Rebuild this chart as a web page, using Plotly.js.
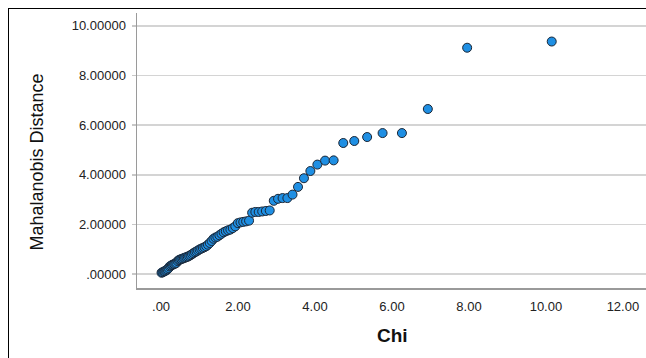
<!DOCTYPE html>
<html>
<head>
<meta charset="utf-8">
<script src="https://cdn.plot.ly/plotly-3.0.1.min.js"></script>
<style>
html,body{margin:0;padding:0;background:#fff;overflow:hidden;}
#wrap{position:relative;width:646px;height:358px;}
#chart{position:absolute;left:0;top:0;width:646px;height:358px;}
#frame{position:absolute;left:8px;top:8px;width:700px;height:400px;border-left:1px solid #000;border-top:1px solid #000;pointer-events:none;}
</style>
</head>
<body>
<div id="wrap"><div id="chart"></div><div id="frame"></div></div>
<script>
const chiValues = [0.0125,0.0379,0.0635,0.0895,0.1158,0.1425,0.1695,0.1969,0.2247,0.2528,
0.2814,0.3104,0.3398,0.3697,0.3999,0.4307,0.4620,0.4937,0.5260,0.5588,
0.5921,0.6260,0.6605,0.6956,0.7313,0.7677,0.8047,0.8424,0.8809,0.9201,
0.9601,1.0009,1.0426,1.0851,1.1286,1.1731,1.2185,1.2650,1.3127,1.3615,
1.4115,1.4627,1.5154,1.5694,1.6250,1.6821,1.7410,1.8016,1.8641,1.9286,
1.9953,2.0642,2.1357,2.2098,2.2867,2.3667,2.4501,2.5370,2.6279,2.7232,
2.8232,2.9285,3.0397,3.1573,3.2824,3.4158,3.5587,3.7126,3.8794,4.0613,
4.2615,4.4839,4.7342,5.0204,5.3546,5.7559,6.2585,6.9315,7.9531,10.1503];
const mahalanobis = [0.05,0.07,0.09,0.11,0.13,0.16,0.19,0.24,0.30,0.33,
0.36,0.38,0.40,0.42,0.45,0.52,0.56,0.58,0.60,0.62,
0.64,0.66,0.68,0.70,0.73,0.76,0.80,0.84,0.88,0.91,
0.95,0.99,1.02,1.05,1.08,1.12,1.18,1.25,1.33,1.42,
1.47,1.50,1.56,1.62,1.68,1.72,1.76,1.79,1.85,1.92,
2.05,2.08,2.10,2.12,2.15,2.47,2.50,2.50,2.52,2.54,
2.56,2.95,3.03,3.06,3.06,3.20,3.51,3.86,4.15,4.41,
4.57,4.58,5.28,5.36,5.52,5.68,5.68,6.65,9.12,9.37];
const xTickVals = [0,2,4,6,8,10,12];
const xTickText = ['.00','2.00','4.00','6.00','8.00','10.00','12.00'];
const yTickVals = [0,2,4,6,8,10];
const yTickText = ['.00000','2.00000','4.00000','6.00000','8.00000','10.00000'];
const xTitle = 'Chi';
const yTitle = 'Mahalanobis Distance';

const trace = {
  x: chiValues, y: mahalanobis, type: 'scatter', mode: 'markers',
  marker: {size: 9, color: '#1f8fe3', line: {color: '#1b2635', width: 1}},
  hoverinfo: 'skip', cliponaxis: false
};
const tickFont = {family: 'Liberation Sans, Arial, sans-serif', size: 13, color: '#222'};
const layout = {
  width: 646, height: 358,
  margin: {l: 137, r: 0, t: 13, b: 70, pad: 0},
  paper_bgcolor: '#fff', plot_bgcolor: '#fff',
  showlegend: false,
  xaxis: {
    range: [-0.625, 12.6], tickvals: xTickVals, ticktext: xTickText,
    showgrid: false, zeroline: false, showline: true, linecolor: '#9a9a9a', linewidth: 1.5,
    ticks: '', ticklabelstandoff: 6, tickfont: tickFont
  },
  yaxis: {
    range: [-0.565, 10.52], tickvals: yTickVals, ticktext: yTickText,
    showgrid: true, gridcolor: '#d4d4d4', gridwidth: 1.5, zeroline: false,
    showline: true, linecolor: '#9a9a9a', linewidth: 1.5,
    ticks: 'outside', ticklen: 4, tickcolor: '#c8c8c8', tickwidth: 1.5,
    ticklabelstandoff: 3, tickfont: tickFont
  },
  annotations: [
    {text: '<b>' + xTitle + '</b>', xref: 'paper', yref: 'paper', x: 0.501, y: -0.1745,
     xanchor: 'center', yanchor: 'middle', showarrow: false,
     font: {family: 'Liberation Sans, Arial, sans-serif', size: 19, color: '#111'}},
    {text: yTitle, xref: 'paper', yref: 'paper', x: -0.1965, y: 0.46, textangle: -90,
     xanchor: 'center', yanchor: 'middle', showarrow: false,
     font: {family: 'Liberation Sans Narrow, Liberation Sans, Arial, sans-serif', size: 18, color: '#111'}}
  ]
};
Plotly.newPlot('chart', [trace], layout, {displayModeBar: false, staticPlot: true});
</script>
</body>
</html>
